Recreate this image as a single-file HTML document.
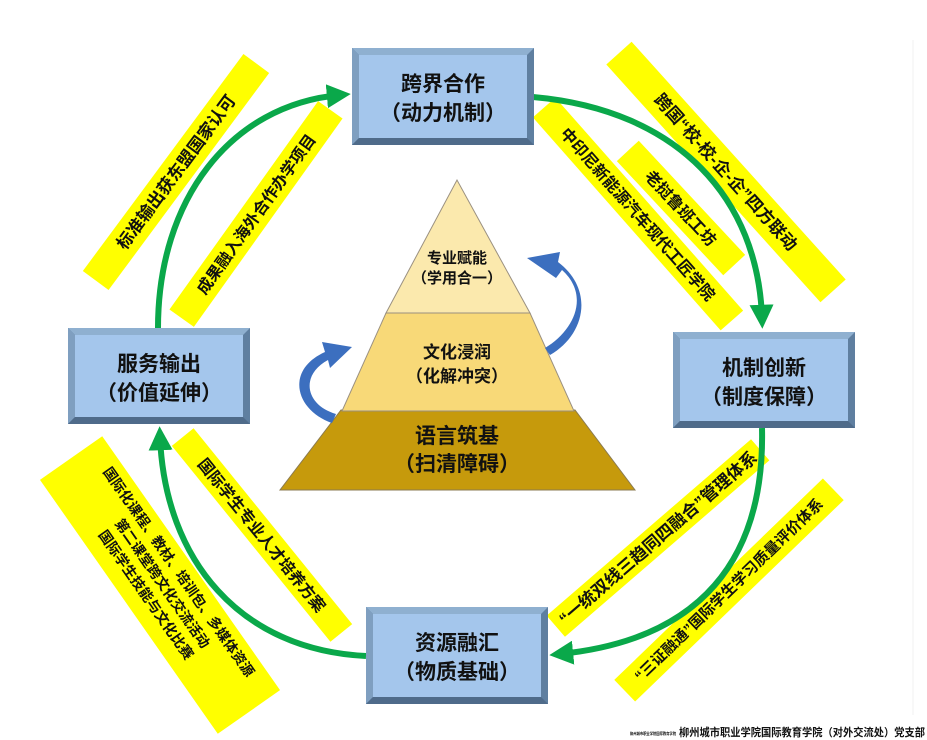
<!DOCTYPE html>
<html><head><meta charset="utf-8"><style>
html,body{margin:0;padding:0;background:#fff;}
svg{display:block;}
text{font-family:"Liberation Sans","Noto Sans CJK SC",sans-serif;font-weight:bold;fill:#111;}
</style></head><body>
<svg width="927" height="740" viewBox="0 0 927 740" xmlns="http://www.w3.org/2000/svg">
<defs>
<marker id="ga" markerWidth="4" markerHeight="4" refX="2.2" refY="2" orient="auto" markerUnits="strokeWidth">
<path d="M0,0 L4,2 L0,4 Z" fill="#0aa84a"/></marker>
</defs>
<line x1="913" y1="40" x2="913" y2="715" stroke="#f0f0f0" stroke-width="1"/>

<g fill="#ffff00">
<rect x="-135" y="-16" width="270" height="32" transform="translate(176,172) rotate(-53.5)"/>
<rect x="-128" y="-15" width="256" height="30" transform="translate(256,214) rotate(-54.5)"/>
<rect x="-160" y="-17" width="320" height="34" transform="translate(726,172) rotate(48)"/>
<rect x="-142" y="-15" width="284" height="30" transform="translate(638,214) rotate(48.6)"/>
<rect x="-78" y="-15" width="156" height="30" transform="translate(681,208) rotate(47)"/>
<rect x="-135" y="-14" width="270" height="28" transform="translate(658,538) rotate(-40.8)"/>
<rect x="-145" y="-15" width="290" height="30" transform="translate(729,590) rotate(-44)"/>
<rect x="-126" y="-14" width="252" height="28" transform="translate(262,535) rotate(51)"/>
<rect x="-155" y="-38" width="310" height="76" transform="translate(160,585) rotate(55)"/>
</g>

<g font-size="17" text-anchor="middle">
<text transform="translate(176,172) rotate(-53.5)" y="6">标准输出获东盟国家认可</text>
<text transform="translate(256,214) rotate(-54.5)" y="6" font-size="16">成果融入海外合作办学项目</text>
<text transform="translate(726,172) rotate(48)" y="6">跨国“校-校-企-企”四方联动</text>
<text transform="translate(638,214) rotate(48.6)" y="6" font-size="16">中印尼新能源汽车现代工匠学院</text>
<text transform="translate(681,208) rotate(47)" y="6" font-size="16">老挝鲁班工坊</text>
<text transform="translate(658,538) rotate(-40.8)" y="6" font-size="17">“一统双线三趋同四融合”管理体系</text>
<text transform="translate(729,590) rotate(-44)" y="5" font-size="15">“三证融通”国际学生学习质量评价体系</text>
<text transform="translate(262,535) rotate(51)" y="6" font-size="16">国际学生专业人才培养方案</text>
<g transform="translate(160,585) rotate(55)" font-size="14">
<text y="-18">国际化课程、教材、培训包、多媒体资源</text>
<text y="2">第二课堂跨文化交流活动</text>
<text y="22">国际学生技能与文化比赛</text>
</g>
</g>

<g fill="none" stroke="#0aa84a" stroke-width="6">
<path d="M158,328 C158,200 230,105 340,95" marker-end="url(#ga)"/>
<path d="M533,97 C680,110 758,200 762,318" marker-end="url(#ga)"/>
<path d="M762,428 C765,560 700,640 560,654" marker-end="url(#ga)"/>
<path d="M366,656 C240,650 165,560 160,437" marker-end="url(#ga)"/>
</g>

<g>
<g>
<rect x="352" y="48" width="182" height="97" fill="#5f7fa0"/>
<polygon points="352,48 534,48 527,55 359,55" fill="#8fb0d0"/>
<polygon points="352,48 359,55 359,138 352,145" fill="#7f9fc0"/>
<rect x="359" y="55" width="168" height="83" fill="#a4c6ec"/>
<polygon points="352,145 534,145 527,138 359,138" fill="#4f6b8a"/>
</g>
<g>
<rect x="68" y="328" width="182" height="96" fill="#5f7fa0"/>
<polygon points="68,328 250,328 243,335 75,335" fill="#8fb0d0"/>
<polygon points="68,328 75,335 75,417 68,424" fill="#7f9fc0"/>
<rect x="75" y="335" width="168" height="82" fill="#a4c6ec"/>
<polygon points="68,424 250,424 243,417 75,417" fill="#4f6b8a"/>
</g>
<g>
<rect x="673" y="332" width="182" height="96" fill="#5f7fa0"/>
<polygon points="673,332 855,332 848,339 680,339" fill="#8fb0d0"/>
<polygon points="673,332 680,339 680,421 673,428" fill="#7f9fc0"/>
<rect x="680" y="339" width="168" height="82" fill="#a4c6ec"/>
<polygon points="673,428 855,428 848,421 680,421" fill="#4f6b8a"/>
</g>
<g>
<rect x="366" y="607" width="182" height="97" fill="#5f7fa0"/>
<polygon points="366,607 548,607 541,614 373,614" fill="#8fb0d0"/>
<polygon points="366,607 373,614 373,697 366,704" fill="#7f9fc0"/>
<rect x="373" y="614" width="168" height="83" fill="#a4c6ec"/>
<polygon points="366,704 548,704 541,697 373,697" fill="#4f6b8a"/>
</g>
</g>
<g font-size="21" text-anchor="middle">
<text x="443" y="91">跨界合作</text><text x="443" y="120">（动力机制）</text>
<text x="159" y="371">服务输出</text><text x="159" y="400">（价值延伸）</text>
<text x="764" y="375">机制创新</text><text x="764" y="404">（制度保障）</text>
<text x="457" y="650">资源融汇</text><text x="457" y="679">（物质基础）</text>
</g>

<polygon points="280,490 635,490 575,410 341,410" fill="#c69a0c" stroke="#8a7a50" stroke-width="1"/>
<polygon points="342,411 574,411 530,313 386,313" fill="#f8d978" stroke="#9a9080" stroke-width="1"/>
<polygon points="386,313 530,313 457,180" fill="#fbe9ad" stroke="#9a9080" stroke-width="1"/>
<g text-anchor="middle">
<text x="457" y="263" font-size="15">专业赋能</text><text x="457" y="283" font-size="15">（学用合一）</text>
<text x="457" y="358" font-size="17">文化浸润</text><text x="457" y="382" font-size="17">（化解冲突）</text>
<text x="457" y="443" font-size="21">语言筑基</text><text x="457" y="471" font-size="21">（扫清障碍）</text>
</g>

<g fill="#3c6fbf">
<path d="M545,348 C575,330 590,295 562,270 L556,278 L527,258 L560,252 L558,262 C595,290 585,335 550,355 Z"/>
<path d="M332,423 C295,410 285,370 325,352 L322,342 L352,347 L330,368 L328,360 C300,375 305,405 336,414 Z"/>
</g>

<text x="630" y="735" font-size="4" fill="#999" font-weight="normal" textLength="46" lengthAdjust="spacingAndGlyphs">柳州城市职业学院国际教育学院</text>
<text x="679" y="736" font-size="11" font-weight="normal" fill="#222" textLength="246" lengthAdjust="spacingAndGlyphs">柳州城市职业学院国际教育学院（对外交流处）党支部</text>
</svg>
</body></html>
